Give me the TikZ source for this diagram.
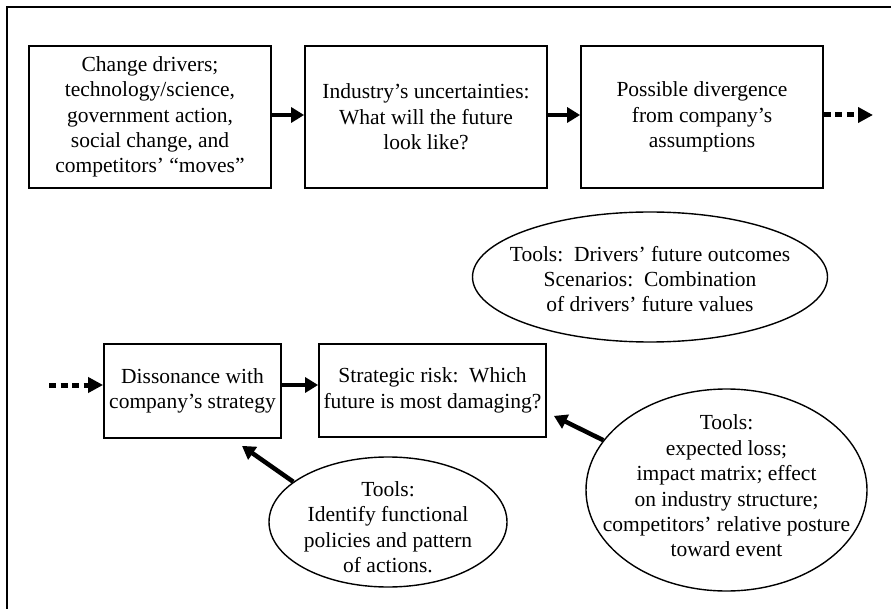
\documentclass[tikz,border=0pt]{standalone}
\usepackage{fontspec}
\setmainfont{Liberation Serif}
\usetikzlibrary{arrows.meta,shapes.geometric}

\begin{document}
\begin{tikzpicture}[x=1pt,y=-1pt,
  every node/.style={font=\fontsize{21.5}{25.4}\selectfont, align=center, inner sep=0pt},
  stagebox/.style={draw, line width=1.8pt},
  toolbubble/.style={draw, ellipse, line width=1.4pt, inner sep=0pt},
  flow/.style={line width=4.5pt, -{Triangle[length=13pt,width=15pt]}},
  flowcont/.style={line width=5pt, dash pattern=on 7pt off 4.5pt,
    -{Triangle[length=15pt,width=15pt]}},
  toolarrow/.style={line width=4.5pt, -{Triangle[length=13pt,width=15pt]}}
]
\useasboundingbox (0,0) rectangle (891,609);
% open frame: top and left edges only
\draw[line width=1.8pt] (7,609) -- (7,7) -- (891,7);

% top row of stages
\node[stagebox, minimum width=242pt, minimum height=142pt] (drivers) at (150,117)
  {Change drivers;\\technology/science,\\government action,\\social change, and\\competitors’ “moves”};
\node[stagebox, minimum width=242pt, minimum height=142pt] (uncert) at (426,117)
  {Industry’s uncertainties:\\What will the future\\look like?};
\node[stagebox, minimum width=242pt, minimum height=142pt] (diverg) at (702,117)
  {Possible divergence\\from company’s\\assumptions};
\coordinate (contout) at (873,115);

% bottom row of stages
\coordinate (contin) at (49,385);
\node[stagebox, minimum width=177pt, minimum height=94pt] (disson) at (192.5,391)
  {Dissonance with\\company’s strategy};
\node[stagebox, minimum width=227pt, minimum height=93pt] (risk) at (432.5,390.5)
  {Strategic risk:\ \ Which\\future is most damaging?};

% tool bubbles: outline first, text set on top
\node[toolbubble, minimum width=355pt, minimum height=130pt] (scen) at (650,277) {};
\node at (650,279)
  {Tools:\ \ Drivers’ future outcomes\\Scenarios:\ \ Combination\\of drivers’ future values};
\node[toolbubble, minimum width=238pt, minimum height=130pt] (ident) at (388,522) {};
\node at (388,527)
  {Tools:\\Identify functional\\policies and pattern\\of actions.};
\node[toolbubble, minimum width=281pt, minimum height=202pt] (loss) at (726.5,490) {};
\node at (726.5,486)
  {Tools:\\expected loss;\\impact matrix; effect\\on industry structure;\\competitors’ relative posture\\toward event};

% flow connectors
\draw[flow] (drivers.east |- 0,115) -- (uncert.west |- 0,115);
\draw[flow] (uncert.east |- 0,115) -- (diverg.west |- 0,115);
\draw[flowcont] (diverg.east |- 0,115) -- (contout);
\draw[flowcont] (contin) -- (disson.west |- 0,385);
\draw[flow] (disson.east |- 0,385) -- (risk.west |- 0,385);

% tool connectors
\draw[toolarrow] (ident.157) -- ([shift={(49.5,7)}]disson.south);
\draw[toolarrow] (loss.158) -- ([shift={(7,-22)}]risk.south east);
\end{tikzpicture}
\end{document}
